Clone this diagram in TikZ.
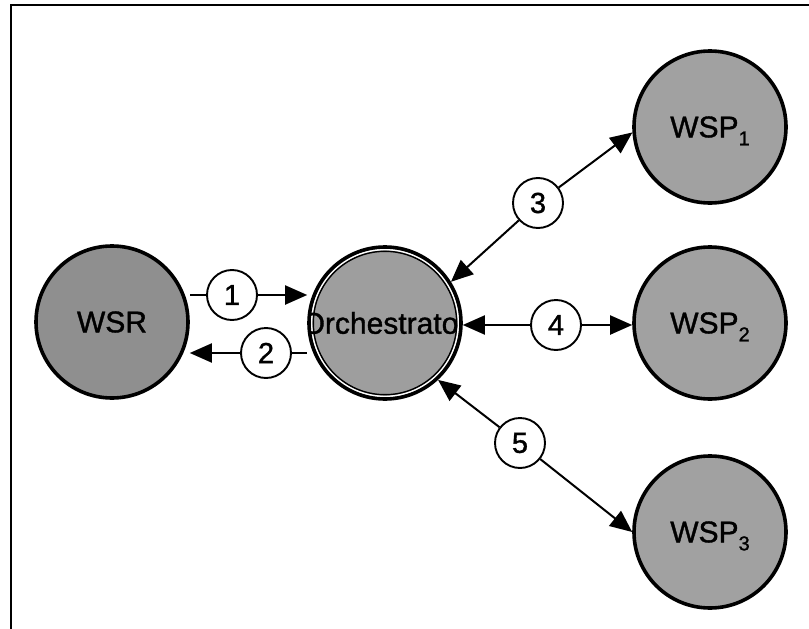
\documentclass[tikz,border=0pt]{standalone}
\usepackage{fontspec}
\setmainfont{Liberation Sans}
\newfontfamily\heavysans[FakeBold=1.2]{Liberation Sans}
\usetikzlibrary{arrows.meta}
\definecolor{wsrgray}{gray}{0.56}
\definecolor{orchgray}{gray}{0.62}
\definecolor{wspgray}{gray}{0.63}
% lowered index after "WSP", kept out of the box height so the letters stay centred
\newcommand\wspidx[1]{\smash{\raisebox{-8pt}{\fontsize{20}{20}\selectfont #1}}}
\begin{document}
\begin{tikzpicture}[x=1pt,y=-1pt,
  party/.style={circle, draw, line width=3.6pt, minimum size=152pt, inner sep=0pt,
                font=\heavysans\fontsize{30}{30}\selectfont},
  stepmark/.style={circle, draw, fill=white, line width=1.9pt, minimum size=50pt,
                   inner sep=0pt, font=\heavysans\fontsize{29}{29}\selectfont},
  link/.style={line width=2pt},
  onehead/.style={link, -{Triangle[length=22pt,width=19pt]}},
]
\useasboundingbox (0,0) rectangle (809,629);

% frame (top and left edges)
\draw[line width=1.6pt] (809,5) -- (11,5) -- (11,629);

% parties
\node[party, fill=wsrgray] (wsr) at (112,322) {WSR};
\node[party, fill=orchgray, path picture={
    \draw[white, line width=1.7pt] (path picture bounding box.center) circle[radius=73.4pt];
    \draw[black, line width=1.4pt] (path picture bounding box.center) circle[radius=71.7pt];
    \node[font=\heavysans\fontsize{30}{30}\selectfont, inner sep=0pt]
      at (path picture bounding box.center) {Orchestrator};
  }] (orch) at (385,323) {};
\node[party, fill=wspgray] (wsp1) at (710,127) {WSP\wspidx{1}};
\node[party, fill=wspgray] (wsp2) at (710,323) {WSP\wspidx{2}};
\node[party, fill=wspgray] (wsp3) at (710,532) {WSP\wspidx{3}};

% message numbers
\node[stepmark] (l1) at (232,295) {1};
\node[stepmark] (l2) at (266,353) {2};
\node[stepmark] (l3) at (538,203) {3};
\node[stepmark] (l4) at (556,325) {4};
\node[stepmark] (l5) at (520,443) {5};

% 1: requester to orchestrator
\draw[link] (l1) -- (l1 -| wsr.east);
\draw[onehead] (l1) -- (l1 -| orch.west);
% 2: orchestrator back to requester
\draw[link] (l2) -- (l2 -| orch.west);
\draw[onehead] (l2) -- (l2 -| wsr.east);
% 3, 4, 5: orchestrator <-> providers
\draw[onehead] (l3) -- (orch.32);
\draw[onehead] (l3) -- (wsp1.184);
\draw[onehead] (l4) -- (l4 -| orch.east);
\draw[onehead] (l4) -- (l4 -| wsp2.west);
\draw[onehead] (l5) -- (orch.-47);
\draw[onehead] (l5) -- (wsp3.west);
\end{tikzpicture}
\end{document}
